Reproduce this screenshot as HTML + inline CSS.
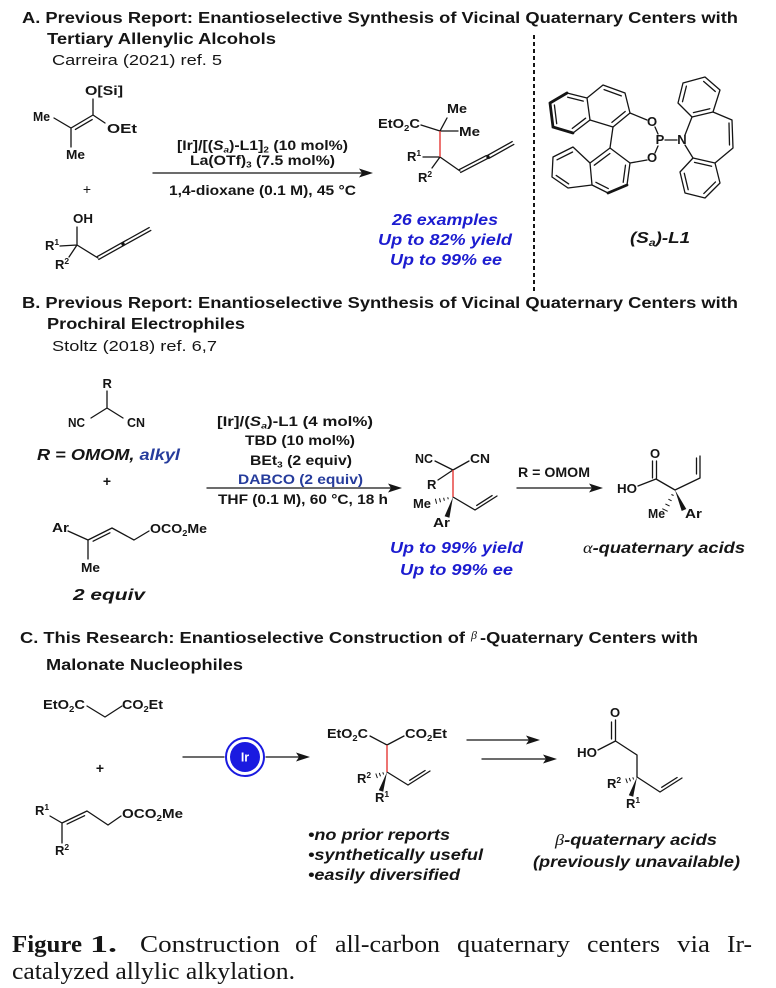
<!DOCTYPE html>
<html><head><meta charset="utf-8">
<style>
html,body{margin:0;padding:0;background:#fff;}
svg{display:block;}
text{font-family:"Liberation Sans",Arial,sans-serif;fill:#151515;}
.t{font-size:16px;font-weight:bold;}
.r{font-size:15px;}
.m{font-size:13px;font-weight:bold;}
.c{font-size:13.5px;font-weight:bold;}
.bl{font-size:16px;font-weight:bold;font-style:italic;fill:#1c1cd0;}
.bi{font-size:16px;font-weight:bold;font-style:italic;}
.cap{font-family:"Liberation Serif","Times New Roman",serif;font-size:24px;}
.g{font-family:"Liberation Serif",serif;font-style:italic;font-weight:normal;}
</style></head>
<body>
<svg width="776" height="988" viewBox="0 0 776 988" xmlns="http://www.w3.org/2000/svg">

<!-- ================= SECTION A ================= -->
<text class="t" x="22" y="23" textLength="716" lengthAdjust="spacingAndGlyphs">A. Previous Report: Enantioselective Synthesis of Vicinal Quaternary Centers with</text>
<text class="t" x="47" y="44" textLength="229" lengthAdjust="spacingAndGlyphs">Tertiary Allenylic Alcohols</text>
<text class="r" x="52" y="65" textLength="170" lengthAdjust="spacingAndGlyphs">Carreira (2021) ref. 5</text>

<g fill="none" stroke="#151515" stroke-width="1.3" stroke-linecap="round" stroke-linejoin="round">
  <path d="M93 99 L93 115 M93 115 L105 123 M93 115 L71 128 M92.2 119.6 L75.4 129.4 M71 128 L54 118 M71 128 L71 147"/>
  <path d="M77 227 L77 245 M60 246 L77 245 M77 245 L69 257 M77 245 L98 258"/>
  <path d="M98.8 259.4 L123.8 245.4 M97.2 256.6 L122.2 242.6 M123.8 245.4 L150.8 230.4 M122.2 242.6 L149.2 227.6"/>
  <path d="M153 173 L363 173"/>
  <path d="M421 125 L440 131 M440 131 L447 118 M440 131 L458 131 M423 157 L440 157 M440 157 L432 168 M440 157 L460 171"/>
  <path d="M460.7 172.4 L487.7 158.4 M459.3 169.6 L486.3 155.6 M488.8 158.4 L513.8 144.4 M487.2 155.6 L512.2 141.6"/>
  <path d="M550 103 L567 93 L587 98 L590 120 L573 133 L553 127 Z"/>
  <path d="M587 98 L603 85 L625 93 L630 113 L613 127 L590 120"/>
  <path d="M556.7 123.7 L554.4 105 M567.7 97.2 L583.3 101.1 M585.6 118.2 L572.3 128.4 M604.1 89.6 L621.3 95.9 M625.2 111.5 L611.9 122.4"/>
  <path d="M613 127 L610 148"/>
  <path d="M630 113 L647 120 M655 127 L658 134 M658 146 L655 153 M647 160 L630 163 M665 140 L677 140"/>
  <path d="M610 148 L630 163 L627 185 L608 193 L592 185 L590 163 Z"/>
  <path d="M590 163 L573 147 L553 157 L552 177 L568 188 L592 185"/>
  <path d="M625.5 165.2 L623.2 182.3 M608.3 188.6 L595.9 182.3 M594.3 165.2 L609.9 153.5 M572.6 152 L557 159.8 M556.2 175.4 L568.7 183.9"/>
  <path d="M685 135 L692 117 M685 145 L693 158"/>
  <path d="M692 117 L713 112 L720 90 L705 77 L683 83 L678 103 Z"/>
  <path d="M693 158 L715 163 L720 183 L705 198 L685 193 L680 172 Z"/>
  <path d="M693.4 112.6 L709.8 108.7 M715.3 91.5 L703.6 81.4 M686.4 86.1 L682.5 101.7"/>
  <path d="M694.5 162.4 L711.6 166.3 M715.5 181.9 L703.8 193.6 M688.2 189.7 L684.3 173.3"/>
  <path d="M713 112 L732 120 L733 148 L715 163 M729 123 L729.5 145"/>
</g>
<g fill="none" stroke="#151515" stroke-width="2.8" stroke-linecap="round">
  <path d="M550 103 L567 93 M550 103 L553 127 L573 133 M627 185 L608 193"/>
</g>
<g fill="none" stroke="#e53935" stroke-width="1.4"><path d="M440 131 L440 157"/></g>
<circle cx="123" cy="244" r="1.7" fill="#151515"/>
<circle cx="488" cy="157" r="1.7" fill="#151515"/>
<polygon points="373,173 359,168.5 362,173 359,177.5" fill="#151515"/>
<path d="M534 35 L534 293" stroke="#151515" stroke-width="2" stroke-dasharray="4 3" fill="none"/>

<text class="m" x="85" y="95" textLength="38" lengthAdjust="spacingAndGlyphs">O[Si]</text>
<text class="m" x="33" y="121" textLength="17" lengthAdjust="spacingAndGlyphs">Me</text>
<text class="m" x="107" y="133" textLength="30" lengthAdjust="spacingAndGlyphs">OEt</text>
<text class="m" x="66" y="159" textLength="19" lengthAdjust="spacingAndGlyphs">Me</text>
<text x="87" y="194" font-size="14" text-anchor="middle">+</text>
<text class="m" x="73" y="223" textLength="20" lengthAdjust="spacingAndGlyphs">OH</text>
<text class="m" x="45" y="250">R<tspan font-size="8.5" dy="-5">1</tspan></text>
<text class="m" x="55" y="269">R<tspan font-size="8.5" dy="-5">2</tspan></text>

<text class="c" x="177" y="150" textLength="171" lengthAdjust="spacingAndGlyphs">[Ir]/[(<tspan font-style="italic">S</tspan><tspan font-size="8.5" dy="2.5" font-style="italic">a</tspan><tspan dy="-2.5">)-L1]</tspan><tspan font-size="8.5" dy="2.5">2</tspan><tspan dy="-2.5"> (10 mol%)</tspan></text>
<text class="c" x="190" y="165" textLength="145" lengthAdjust="spacingAndGlyphs">La(OTf)<tspan font-size="8.5" dy="2.5">3</tspan><tspan dy="-2.5"> (7.5 mol%)</tspan></text>
<text class="c" x="169" y="195" textLength="187" lengthAdjust="spacingAndGlyphs">1,4-dioxane (0.1 M), 45 °C</text>

<text class="m" x="378" y="128" textLength="42" lengthAdjust="spacingAndGlyphs">EtO<tspan font-size="8.5" dy="3">2</tspan><tspan dy="-3">C</tspan></text>
<text class="m" x="447" y="113" textLength="20" lengthAdjust="spacingAndGlyphs">Me</text>
<text class="m" x="459" y="136" textLength="21" lengthAdjust="spacingAndGlyphs">Me</text>
<text class="m" x="407" y="161">R<tspan font-size="8.5" dy="-5">1</tspan></text>
<text class="m" x="418" y="182">R<tspan font-size="8.5" dy="-5">2</tspan></text>

<text class="bl" x="392" y="225" textLength="106" lengthAdjust="spacingAndGlyphs">26 examples</text>
<text class="bl" x="378" y="245" textLength="134" lengthAdjust="spacingAndGlyphs">Up to 82% yield</text>
<text class="bl" x="390" y="265" textLength="112" lengthAdjust="spacingAndGlyphs">Up to 99% ee</text>

<text class="m" x="652" y="126" text-anchor="middle">O</text>
<text class="m" x="660" y="144" text-anchor="middle">P</text>
<text class="m" x="652" y="162" text-anchor="middle">O</text>
<text class="m" x="682" y="144" text-anchor="middle">N</text>
<text class="bi" x="630" y="243" textLength="60" lengthAdjust="spacingAndGlyphs">(S<tspan font-size="10.5" dy="3">a</tspan><tspan dy="-3">)-L1</tspan></text>

<!-- ================= SECTION B ================= -->
<text class="t" x="22" y="308" textLength="716" lengthAdjust="spacingAndGlyphs">B. Previous Report: Enantioselective Synthesis of Vicinal Quaternary Centers with</text>
<text class="t" x="47" y="329" textLength="198" lengthAdjust="spacingAndGlyphs">Prochiral Electrophiles</text>
<text class="r" x="52" y="351" textLength="165" lengthAdjust="spacingAndGlyphs">Stoltz (2018) ref. 6,7</text>

<g fill="none" stroke="#151515" stroke-width="1.3" stroke-linecap="round" stroke-linejoin="round">
  <path d="M107 391 L107 408 M107 408 L91 418 M107 408 L123 418"/>
  <path d="M68 531 L88 540 M88 540 L88 559 M88 540 L112 528 M93.1 541.2 L109.9 532.8 M112 528 L134 540 M134 540 L149 531"/>
  <path d="M207 488 L392 488"/>
  <path d="M435 461 L453 470 M453 470 L469 461 M453 470 L438 480"/>
  <path d="M453 497 L475 510 M475 510 L497 496 M476.7 505.4 L492.1 495.6"/>
  <path d="M517 488 L593 488"/>
  <path d="M652.5 461 L652.5 478 M656.5 461 L656.5 479 M638 486 L656 479 M656 479 L675 490 M675 490 L700 478 M700 478 L700 456 M696.5 474 L696.5 458"/>
</g>
<g fill="none" stroke="#151515" stroke-width="1">
  <path d="M447.7 497.2 L448.3 499.3 M443.6 497.7 L444.4 500.8 M439.5 498.2 L440.5 502.3 M435.4 498.7 L436.6 503.8"/>
  <path d="M671.4 494.5 L673.6 495.5 M668.4 499.2 L671.6 500.8 M665.4 503.9 L669.6 506.1 M662.3 508.7 L667.7 511.3"/>
</g>
<g fill="none" stroke="#e53935" stroke-width="1.4"><path d="M453 470 L453 497"/></g>
<polygon points="453,497 449.4,517.7 444.6,516.3" fill="#151515"/>
<polygon points="675,490 686.3,509 681.7,511" fill="#151515"/>
<polygon points="402,488 388,483.5 391,488 388,492.5" fill="#151515"/>
<polygon points="603,488 589,483.5 592,488 589,492.5" fill="#151515"/>

<text class="m" x="102.5" y="388">R</text>
<text class="m" x="68" y="427" textLength="17" lengthAdjust="spacingAndGlyphs">NC</text>
<text class="m" x="127" y="427" textLength="18" lengthAdjust="spacingAndGlyphs">CN</text>
<text class="bi" x="37" y="460" textLength="143" lengthAdjust="spacingAndGlyphs">R = OMOM, <tspan fill="#263c9c">alkyl</tspan></text>
<text x="107" y="486" font-size="14" font-weight="bold" text-anchor="middle">+</text>
<text class="m" x="52" y="532" textLength="17" lengthAdjust="spacingAndGlyphs">Ar</text>
<text class="m" x="81" y="572" textLength="19" lengthAdjust="spacingAndGlyphs">Me</text>
<text class="m" x="150" y="533" textLength="57" lengthAdjust="spacingAndGlyphs">OCO<tspan font-size="8.5" dy="3">2</tspan><tspan dy="-3">Me</tspan></text>
<text class="bi" x="73" y="600" textLength="72" lengthAdjust="spacingAndGlyphs">2 equiv</text>

<text class="c" x="217" y="426" textLength="156" lengthAdjust="spacingAndGlyphs">[Ir]/(<tspan font-style="italic">S</tspan><tspan font-size="8.5" dy="2.5" font-style="italic">a</tspan><tspan dy="-2.5">)-L1 (4 mol%)</tspan></text>
<text class="c" x="245" y="445" textLength="110" lengthAdjust="spacingAndGlyphs">TBD (10 mol%)</text>
<text class="c" x="250" y="465" textLength="102" lengthAdjust="spacingAndGlyphs">BEt<tspan font-size="8.5" dy="2.5">3</tspan><tspan dy="-2.5"> (2 equiv)</tspan></text>
<text class="c" x="238" y="484" textLength="125" lengthAdjust="spacingAndGlyphs" style="fill:#263c9c">DABCO (2 equiv)</text>
<text class="c" x="218" y="504" textLength="170" lengthAdjust="spacingAndGlyphs">THF (0.1 M), 60 °C, 18 h</text>

<text class="m" x="415" y="463" textLength="18" lengthAdjust="spacingAndGlyphs">NC</text>
<text class="m" x="470" y="463" textLength="20" lengthAdjust="spacingAndGlyphs">CN</text>
<text class="m" x="427" y="489">R</text>
<text class="m" x="413" y="508" textLength="18" lengthAdjust="spacingAndGlyphs">Me</text>
<text class="m" x="433" y="527" textLength="17" lengthAdjust="spacingAndGlyphs">Ar</text>
<text class="bl" x="390" y="553" textLength="133" lengthAdjust="spacingAndGlyphs">Up to 99% yield</text>
<text class="bl" x="400" y="575" textLength="113" lengthAdjust="spacingAndGlyphs">Up to 99% ee</text>

<text class="c" x="518" y="477" textLength="72" lengthAdjust="spacingAndGlyphs">R = OMOM</text>
<text class="m" x="655" y="458" text-anchor="middle">O</text>
<text class="m" x="617" y="493" textLength="20" lengthAdjust="spacingAndGlyphs">HO</text>
<text class="m" x="648" y="518" textLength="17" lengthAdjust="spacingAndGlyphs">Me</text>
<text class="m" x="685" y="518" textLength="17" lengthAdjust="spacingAndGlyphs">Ar</text>
<text class="bi" x="583" y="553" textLength="162" lengthAdjust="spacingAndGlyphs"><tspan class="g">α</tspan>-quaternary acids</text>

<!-- ================= SECTION C ================= -->
<text class="t" x="20" y="643" textLength="445" lengthAdjust="spacingAndGlyphs">C. This Research: Enantioselective Construction of</text>
<text x="471" y="639" font-size="12" class="g">β</text>
<text class="t" x="480" y="643" textLength="218" lengthAdjust="spacingAndGlyphs">-Quaternary Centers with</text>
<text class="t" x="46" y="670" textLength="197" lengthAdjust="spacingAndGlyphs">Malonate Nucleophiles</text>

<g fill="none" stroke="#151515" stroke-width="1.3" stroke-linecap="round" stroke-linejoin="round">
  <path d="M87 706 L105 717 L122 706"/>
  <path d="M50 816 L62 823 M62 823 L62 843 M62 823 L87 811 M67.1 824.1 L84.6 815.7 M87 811 L108 825 M108 825 L121 816"/>
  <path d="M183 757 L224 757 M266 757 L300 757"/>
  <path d="M370 736 L387 745 L404 736"/>
  <path d="M387 772 L408 785 M408 785 L430 771 M409.7 780.3 L425.1 770.5"/>
  <path d="M467 740 L530 740 M482 759 L547 759"/>
  <path d="M615.5 720 L615.5 741 M611.5 722 L611.5 739 M598 750 L615.5 741 M615.5 741 L637 755 M637 755 L637 777"/>
  <path d="M637 777 L660 792 M660 792 L682 778 M661.7 787.3 L677.1 777.5"/>
</g>
<g fill="none" stroke="#151515" stroke-width="1">
  <path d="M382.8 772.3 L383.6 774.5 M379.3 772.9 L380.5 776.3 M375.8 773.5 L377.4 778.1"/>
  <path d="M632.8 777.3 L633.6 779.5 M629.3 777.9 L630.5 781.3 M625.8 778.5 L627.4 783.1"/>
</g>
<g fill="none" stroke="#e53935" stroke-width="1.4"><path d="M387 745 L387 772"/></g>
<polygon points="387,772 383.2,791.7 378.8,790.3" fill="#151515"/>
<polygon points="637,777 633.2,796.7 628.8,795.3" fill="#151515"/>
<polygon points="310,757 296,752.5 299,757 296,761.5" fill="#151515"/>
<polygon points="540,740 526,735.5 529,740 526,744.5" fill="#151515"/>
<polygon points="557,759 543,754.5 546,759 543,763.5" fill="#151515"/>

<circle cx="245" cy="757" r="19" fill="#fff" stroke="#1a1ae0" stroke-width="2"/>
<circle cx="245" cy="757" r="15" fill="#1a1ae0"/>
<text x="245" y="761.5" font-size="12.5" font-weight="bold" text-anchor="middle" style="fill:#fff">Ir</text>

<text class="m" x="43" y="709" textLength="42" lengthAdjust="spacingAndGlyphs">EtO<tspan font-size="8.5" dy="3">2</tspan><tspan dy="-3">C</tspan></text>
<text class="m" x="122" y="709" textLength="41" lengthAdjust="spacingAndGlyphs">CO<tspan font-size="8.5" dy="3">2</tspan><tspan dy="-3">Et</tspan></text>
<text x="100" y="773" font-size="14" font-weight="bold" text-anchor="middle">+</text>
<text class="m" x="35" y="815">R<tspan font-size="8.5" dy="-5">1</tspan></text>
<text class="m" x="55" y="855">R<tspan font-size="8.5" dy="-5">2</tspan></text>
<text class="m" x="122" y="818" textLength="61" lengthAdjust="spacingAndGlyphs">OCO<tspan font-size="8.5" dy="3">2</tspan><tspan dy="-3">Me</tspan></text>

<text class="m" x="327" y="738" textLength="41" lengthAdjust="spacingAndGlyphs">EtO<tspan font-size="8.5" dy="3">2</tspan><tspan dy="-3">C</tspan></text>
<text class="m" x="405" y="738" textLength="42" lengthAdjust="spacingAndGlyphs">CO<tspan font-size="8.5" dy="3">2</tspan><tspan dy="-3">Et</tspan></text>
<text class="m" x="357" y="783">R<tspan font-size="8.5" dy="-5">2</tspan></text>
<text class="m" x="375" y="802">R<tspan font-size="8.5" dy="-5">1</tspan></text>

<text class="bi" x="308" y="840" textLength="142" lengthAdjust="spacingAndGlyphs">•no prior reports</text>
<text class="bi" x="308" y="860" textLength="175" lengthAdjust="spacingAndGlyphs">•synthetically useful</text>
<text class="bi" x="308" y="880" textLength="152" lengthAdjust="spacingAndGlyphs">•easily diversified</text>

<text class="m" x="615" y="717" text-anchor="middle">O</text>
<text class="m" x="577" y="757" textLength="20" lengthAdjust="spacingAndGlyphs">HO</text>
<text class="m" x="607" y="788">R<tspan font-size="8.5" dy="-5">2</tspan></text>
<text class="m" x="626" y="808">R<tspan font-size="8.5" dy="-5">1</tspan></text>
<text class="bi" x="555" y="845" textLength="162" lengthAdjust="spacingAndGlyphs"><tspan class="g">β</tspan>-quaternary acids</text>
<text class="bi" x="533" y="867" textLength="207" lengthAdjust="spacingAndGlyphs">(previously unavailable)</text>

<!-- ================= CAPTION ================= -->
<text class="cap" x="12" y="952" font-weight="bold" textLength="70" lengthAdjust="spacingAndGlyphs">Figure</text>
<text class="cap" x="90" y="952" font-weight="bold" textLength="27" lengthAdjust="spacingAndGlyphs">1.</text>
<text class="cap" x="140" y="952" textLength="140" lengthAdjust="spacingAndGlyphs">Construction</text>
<text class="cap" x="295" y="952" textLength="22" lengthAdjust="spacingAndGlyphs">of</text>
<text class="cap" x="335" y="952" textLength="105" lengthAdjust="spacingAndGlyphs">all-carbon</text>
<text class="cap" x="457" y="952" textLength="113" lengthAdjust="spacingAndGlyphs">quaternary</text>
<text class="cap" x="587" y="952" textLength="73" lengthAdjust="spacingAndGlyphs">centers</text>
<text class="cap" x="677" y="952" textLength="33" lengthAdjust="spacingAndGlyphs">via</text>
<text class="cap" x="727" y="952" textLength="25" lengthAdjust="spacingAndGlyphs">Ir-</text>
<text class="cap" x="12" y="979" textLength="283" lengthAdjust="spacingAndGlyphs">catalyzed allylic alkylation.</text>

</svg>
</body></html>
